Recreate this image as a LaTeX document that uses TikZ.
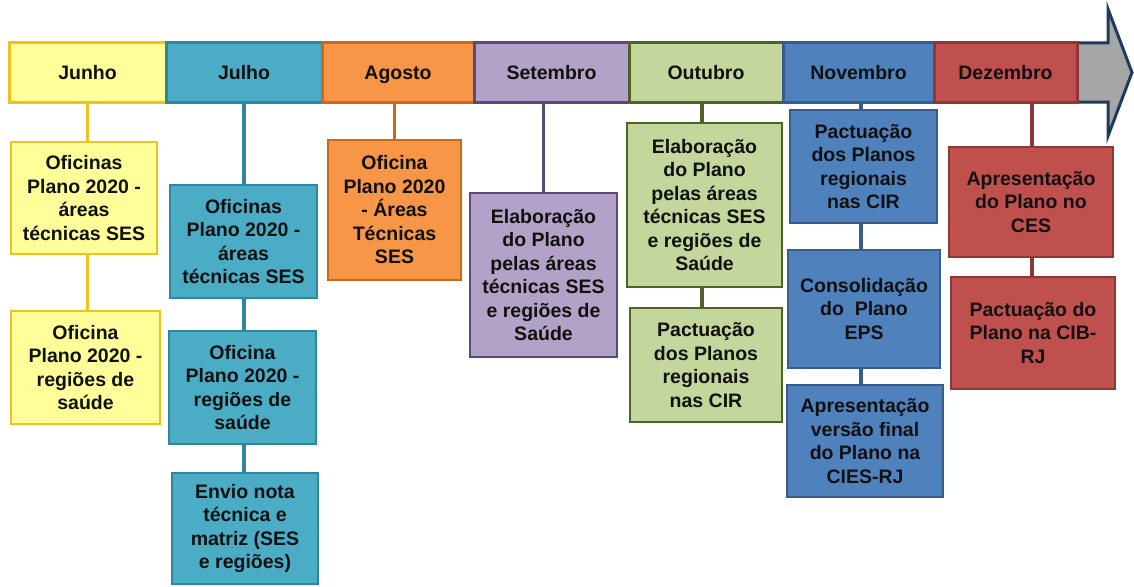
\documentclass[tikz,border=0pt]{standalone}
\usepackage{fontspec}
\setmainfont{Liberation Sans}
\usetikzlibrary{backgrounds}
\definecolor{junF}{HTML}{FFFF99}\definecolor{junD}{HTML}{F2C21B}
\definecolor{julF}{HTML}{4BACC6}\definecolor{julD}{HTML}{31859C}
\definecolor{agoF}{HTML}{F79646}\definecolor{agoD}{HTML}{C8691E}
\definecolor{setF}{HTML}{B3A2C7}\definecolor{setD}{HTML}{5F497A}
\definecolor{outF}{HTML}{C3D69B}\definecolor{outD}{HTML}{4F6228}
\definecolor{novF}{HTML}{4F81BD}\definecolor{novD}{HTML}{385D8A}
\definecolor{dezF}{HTML}{C0504D}\definecolor{dezD}{HTML}{8C3836}
\definecolor{arrF}{HTML}{A6A6A6}\definecolor{arrD}{HTML}{1F3A5F}
\definecolor{txt}{HTML}{111111}
\tikzset{
  cell/.style={draw=#1D, fill=#1F, line width=3pt, inner sep=0pt, outer sep=0pt,
    minimum height=59pt, text height=14pt, text depth=0pt, text=txt,
    font=\bfseries\fontsize{19.5}{23.5}\selectfont},
  card/.style={draw=#1D, fill=#1F, line width=2.8pt, inner sep=0pt, outer sep=0pt,
    align=center, text=txt, font=\bfseries\fontsize{19.5}{23.5}\selectfont},
  stem/.style={draw=#1D, line width=3.6pt},
}
\begin{document}
\begin{tikzpicture}[x=1pt,y=-1pt]
\useasboundingbox (0,0) rectangle (1134,586);
% arrow head at the right end
\draw[arrD, fill=arrF, line width=3pt, line join=miter]
  (1077,43) -- (1108,43) -- (1108,9) -- (1132,72.5) -- (1108,136) -- (1108,102) -- (1077,102) -- cycle;
% month cells
\node[cell=jun, minimum width=157pt] (jun) at (87.5,72.5) {Junho};
\node[cell=jul, minimum width=156pt] (jul) at (244,72.5) {Julho};
\node[cell=ago, minimum width=152pt] (ago) at (398,72.5) {Agosto};
\node[cell=set, minimum width=155pt] (set) at (551.5,72.5) {Setembro};
\node[cell=out, minimum width=154pt] (out) at (706,72.5) {Outubro};
\node[cell=nov, minimum width=151pt] (nov) at (858.5,72.5) {Novembro};
\node[cell=dez, minimum width=143pt] (dez) at (1005.5,72.5) {Dezembro};
% cards
\node[card=jun, minimum width=146pt, minimum height=112pt] (j1) at (84,198) {Oficinas\\Plano 2020 -\\áreas\\técnicas SES};
\node[card=jun, minimum width=149pt, minimum height=113pt] (j2) at (85.5,367.5) {Oficina\\Plano 2020 -\\regiões de\\saúde};
\node[card=jul, minimum width=147pt, minimum height=113pt] (l1) at (243.5,241.5) {Oficinas\\Plano 2020 -\\áreas\\técnicas SES};
\node[card=jul, minimum width=147pt, minimum height=113pt] (l2) at (242.5,387.5) {Oficina\\Plano 2020 -\\regiões de\\saúde};
\node[card=jul, minimum width=146pt, minimum height=111pt] (l3) at (245,528.5) {Envio nota\\técnica e\\matriz (SES\\e regiões)};
\node[card=ago, minimum width=133pt, minimum height=140pt] (a1) at (394.5,210) {Oficina\\Plano 2020\\- Áreas\\Técnicas\\SES};
\node[card=set, minimum width=147pt, minimum height=164pt] (s1) at (543.5,275) {Elaboração\\do Plano\\pelas áreas\\técnicas SES\\e regiões de\\Saúde};
\node[card=out, minimum width=155pt, minimum height=164pt] (o1) at (704.5,205) {Elaboração\\do Plano\\pelas áreas\\técnicas SES\\e regiões de\\Saúde};
\node[card=out, minimum width=152pt, minimum height=114pt] (o2) at (706,365) {Pactuação\\dos Planos\\regionais\\nas CIR};
\node[card=nov, minimum width=147pt, minimum height=113pt] (n1) at (863.5,166.5) {Pactuação\\dos Planos\\regionais\\nas CIR};
\node[card=nov, minimum width=152pt, minimum height=118pt] (n2) at (864,309) {Consolidação\\do\ \ Plano\\EPS};
\node[card=nov, minimum width=156pt, minimum height=112pt] (n3) at (865,441) {Apresentação\\versão final\\do Plano na\\CIES-RJ};
\node[card=dez, minimum width=164pt, minimum height=110pt] (d1) at (1031,202) {Apresentação\\do Plano no\\CES};
\node[card=dez, minimum width=164pt, minimum height=112pt] (d2) at (1033,333) {Pactuação do\\Plano na CIB-\\RJ};
% connectors
\begin{scope}[on background layer]
\draw[stem=jun] (j1.north -| jun.south) -- (jun.south);
\draw[stem=jun] (jun.south) -- (jun.south |- j2.north);
\draw[stem=jul] (jul.south) -- (jul.south |- l3.north);
\draw[stem=ago] (a1.north) -- (a1.north |- ago.south);
\draw[stem=set] (s1.north) -- (s1.north |- set.south);
\draw[stem=out] (o1.north -| 702,0) -- (702,102);
\draw[stem=out] (o1.south -| 702,0) -- (o2.north -| 702,0);
\draw[stem=nov] (nov.south -| 861,0) -- (n3.north -| 861,0);
\draw[stem=dez] (d1.north -| 1032,0) -- (dez.south -| 1032,0);
\draw[stem=dez] (d1.south -| 1032,0) -- (d2.north -| 1032,0);
\end{scope}
\end{tikzpicture}
\end{document}
